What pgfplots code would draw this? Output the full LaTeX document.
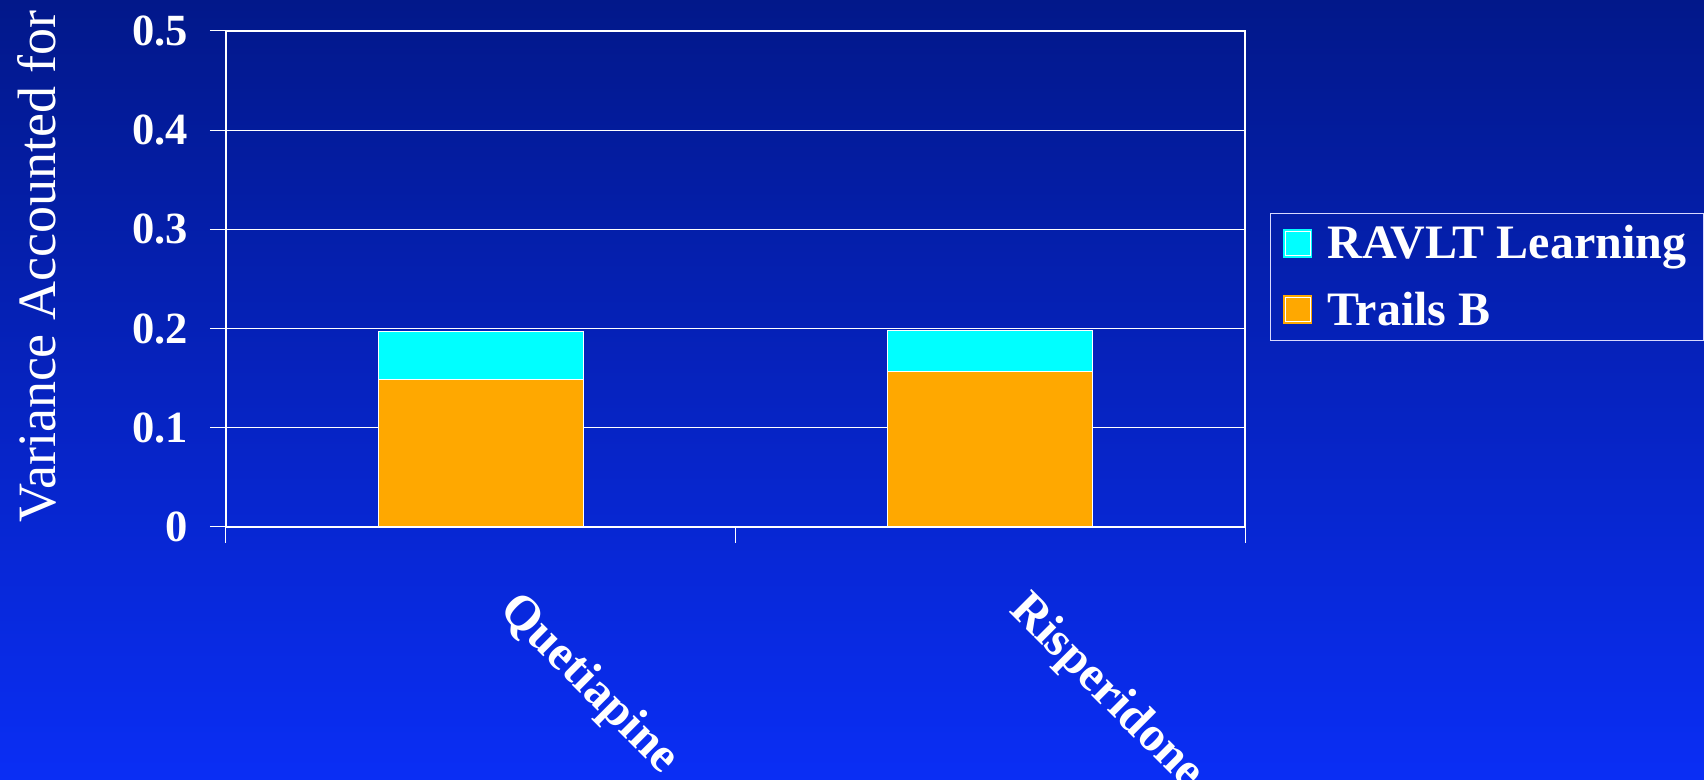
\documentclass[border=0pt]{standalone}
\usepackage{pgfplots}
\pgfplotsset{compat=1.18}
\usepackage{fontspec}
\setmainfont{Liberation Serif}

\definecolor{bgtop}{RGB}{2,24,138}
\definecolor{bgbot}{RGB}{10,46,245}
\definecolor{ravlt}{RGB}{0,255,255}
\definecolor{trails}{RGB}{255,168,0}

\pgfplotsset{
  sqlegend/.style={
    legend image code/.code={
      \path[##1, draw=none] (0pt,-7.25pt) rectangle (14.5pt,7.25pt);
      \draw[draw=white, fill=none, line width=0.5pt] (1.2pt,-6pt) rectangle (13.3pt,6pt);
      \path[draw=none, fill=none] (0pt,0pt) -- (20pt,0pt);
    }
  }
}

\begin{document}
\begin{tikzpicture}
\path[use as bounding box] (0,0) rectangle (852pt,390pt);
\clip (0,0) rectangle (852pt,390pt);
\shade[top color=bgtop, bottom color=bgbot] (0,0) rectangle (852pt,390pt);
\begin{axis}[
    at={(113pt,126.5pt)}, anchor=south west,
    scale only axis, width=509.5pt, height=248pt,
    ybar stacked, bar width=102.5pt,
    xmin=-0.5, xmax=1.5, ymin=0, ymax=0.5,
    ytick={0,0.1,0.2,0.3,0.4,0.5},
    xtick={0,1}, xticklabels={Quetiapine,Risperidone},
    minor xtick={-0.5,0.5,1.5},
    tick pos=left,
    tick align=outside,
    major tick length=8pt, minor tick length=8pt,
    major x tick style={draw=none},
    minor x tick style={draw=white, line width=0.5pt},
    major y tick style={draw=white, line width=0.5pt},
    ymajorgrids, grid style={white, line width=0.5pt},
    axis line style={white, line width=0.6pt},
    /pgf/number format/assume math mode=true,
    yticklabel style={text=white, font=\bfseries\fontsize{22.3}{27}\selectfont, xshift=-7.5pt},
    xticklabel style={text=white, font=\bfseries\fontsize{24.5}{29}\selectfont,
        rotate=-45, anchor=north west, xshift=26.9pt, yshift=2.7pt},
    ylabel={Variance Accounted for},
    ylabel style={at={(axis description cs:-0.186,0.525)}, anchor=center,
        text=white, font=\fontsize{27}{32}\selectfont},
    reverse legend,
    legend cell align=left,
    legend style={at={(axis description cs:1.0245,0.633)}, anchor=north west,
        draw=white!85!blue, fill=none, text=white, line width=0.5pt,
        font=\bfseries\fontsize{24}{28}\selectfont,
        inner xsep=6.5pt, inner ysep=4pt, row sep=11pt},
]
\addplot[fill=trails, draw=white, line width=0.6pt, sqlegend]
    coordinates {(0,0.149) (1,0.157)};
\addplot[fill=ravlt, draw=white, line width=0.6pt, sqlegend]
    coordinates {(0,0.048) (1,0.041)};
\legend{Trails B, RAVLT Learning}
\end{axis}
\end{tikzpicture}
\end{document}
